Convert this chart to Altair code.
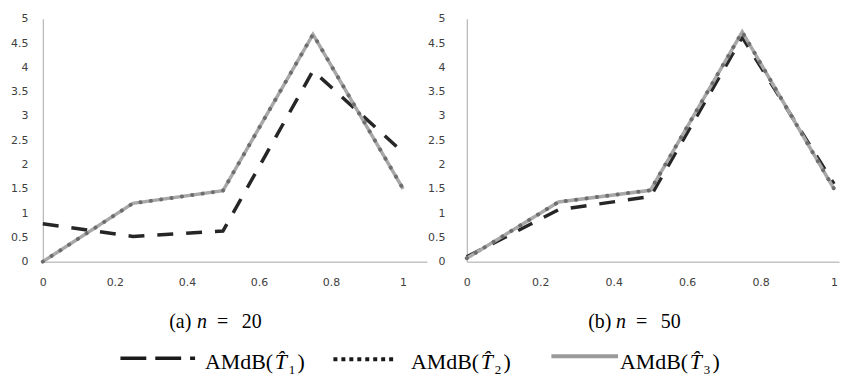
import altair as alt
import pandas as pd

# ---------------- data ----------------
x_vals = [0, 0.25, 0.5, 0.75, 1]

n20_T1 = [0.78, 0.52, 0.63, 3.93, 2.25]
n20_T2 = [0.0, 1.20, 1.46, 4.68, 1.50]
n20_T3 = [0.0, 1.20, 1.46, 4.68, 1.50]

n50_T1 = [0.10, 1.07, 1.34, 4.62, 1.60]
n50_T2 = [0.07, 1.23, 1.47, 4.73, 1.50]
n50_T3 = [0.07, 1.23, 1.47, 4.73, 1.50]

x_ticks = [0, 0.2, 0.4, 0.6, 0.8, 1]
y_ticks = [0, 0.5, 1, 1.5, 2, 2.5, 3, 3.5, 4, 4.5, 5]

caption_tags = ["(a)", "(b)"]
caption_n = ["20", "50"]
legend_subs = ["1", "2", "3"]

# ---------------- styles ----------------
C_T1 = "#262626"
C_T2 = "#6e6e6e"
C_T3 = "#a8a8a8"
AXIS_COLOR = "#a6a6a6"
LABEL_COLOR = "#404040"
PANEL_H = 244


def panel(t1, t2, t3, width, xmax, label_pad):
    df = pd.DataFrame({"x": x_vals, "T1": t1, "T2": t2, "T3": t3})
    base = alt.Chart(df)
    xenc = alt.X(
        "x:Q",
        scale=alt.Scale(domain=[0, xmax], nice=False, zero=False),
        axis=alt.Axis(values=x_ticks, title=None, labelFlush=False, format="~g",
                      labelPadding=15),
    )

    def yenc(f):
        return alt.Y(
            f + ":Q",
            scale=alt.Scale(domain=[0, 5], nice=False),
            axis=alt.Axis(values=y_ticks, title=None, format="~g",
                          labelPadding=label_pad),
        )

    l1 = base.mark_line(color=C_T1, strokeWidth=3.5, strokeDash=[16, 13]).encode(x=xenc, y=yenc("T1"))
    l3 = base.mark_line(color=C_T3, strokeWidth=3.5).encode(x=xenc, y=yenc("T3"))
    l2 = base.mark_line(color=C_T2, strokeWidth=4, strokeDash=[0.1, 10.4],
                        strokeCap="round").encode(x=xenc, y=yenc("T2"))
    return alt.layer(l1, l3, l2).properties(width=width, height=PANEL_H)


left = panel(n20_T1, n20_T2, n20_T3, 386, 386 / 362, 15)
right = panel(n50_T1, n50_T2, n50_T3, 374, 374 / 369, 22)

# ---------------- captions and legend row ----------------
dummy = alt.Data(values=[{"k": 0}])
SERIF = "Liberation Serif"


def txt(s, x, y, size, style="normal"):
    return alt.Chart(dummy).mark_text(
        text=s, align="left", baseline="alphabetic", fontSize=size,
        font=SERIF, fontStyle=style, color="black",
    ).encode(x=alt.value(x), y=alt.value(y))


def rule(x1, x2, y, color, width, dash=None):
    kw = dict(color=color, strokeWidth=width)
    if dash is not None:
        kw["strokeDash"] = dash
    return alt.Chart(dummy).mark_rule(**kw).encode(
        x=alt.value(x1), x2=alt.value(x2), y=alt.value(y))


CAP_Y = 41
LEG_Y = 82

layers = []
cap_x = [127, 548]
for tag, n, cx in zip(caption_tags, caption_n, cap_x):
    layers += [
        txt(tag, cx, CAP_Y, 20),
        txt("n", cx + 28, CAP_Y, 20, "italic"),
        txt("=", cx + 48, CAP_Y, 20),
        txt(n, cx + 73, CAP_Y, 20),
    ]

layers += [
    rule(78, 153, LEG_Y - 11, "#1a1a1a", 3.5, [26, 9]),
    rule(292, 355, LEG_Y - 10, "#1a1a1a", 4, [4, 4]),
    rule(511, 578, LEG_Y - 13, "#9a9a9a", 4),
]

leg_x = [163, 370, 580]
for sub, x0 in zip(legend_subs, leg_x):
    layers += [
        txt("AMdB(", x0, LEG_Y, 22),
        txt("T\u0302", x0 + 70, LEG_Y, 22, "italic"),
        txt(sub, x0 + 84, LEG_Y + 5, 13),
        txt(")", x0 + 93, LEG_Y, 22),
    ]

bottom = alt.layer(*layers).properties(width=790, height=92)

top = alt.hconcat(left, right, spacing=40, bounds="flush")

chart = (
    alt.vconcat(top, bottom, spacing=0)
    .properties(padding={"left": 10, "top": 12, "right": 0, "bottom": 0}, background="white")
    .configure_view(strokeWidth=0)
    .configure_axis(
        domainColor=AXIS_COLOR, domainWidth=1, ticks=False, tickSize=0, grid=False,
        labelFont="DejaVu Sans", labelFontSize=11, labelColor=LABEL_COLOR,
    )
)

chart.save("out.html", embed_options={"renderer": "svg", "actions": False})
